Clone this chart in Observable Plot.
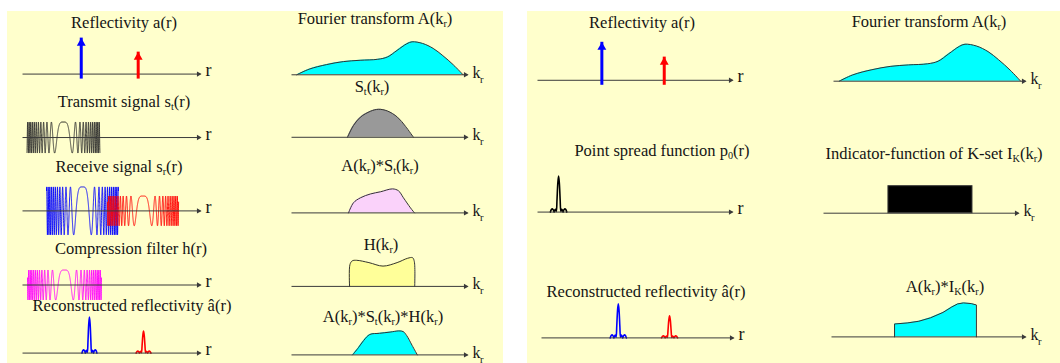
<!DOCTYPE html>
<html><head><meta charset="utf-8">
<script src="https://cdn.jsdelivr.net/npm/d3@7"></script>
<script src="https://cdn.jsdelivr.net/npm/@observablehq/plot@0.6"></script>
<style>
body{margin:0;background:#fff;}
#root{position:relative;width:1060px;height:363px;overflow:hidden;font-family:"Liberation Serif","Times New Roman",serif;color:#151515;}
.panel{position:absolute;background:#ffffcc;}
.lbl{position:absolute;white-space:nowrap;line-height:1;transform:translateX(-50%);}
.lbl sub{font-size:0.62em;vertical-align:baseline;position:relative;top:0.28em;}
.cell{position:absolute;}
</style></head>
<body><div id="root"></div>
<script>
// ---------------- data ----------------
const BLUE = "#0000ff", RED = "#ff0000";
const reflectors = [
  {r: 33, a: 1.0, color: BLUE},
  {r: 65, a: 0.61, color: RED}
];
// Fourier transform A(k_r): [k, amplitude]
const spectrumA = [[3,0],[10,0.17],[20,0.31],[29.5,0.4],[39,0.44],[49,0.47],[54.5,0.54],[60,0.74],[65.5,0.94],[68.5,1],[74.5,0.95],[80.5,0.8],[86,0.58],[92,0.3],[97.5,0]];
const spectrumSt = [[31.8,0],[35.2,0.42],[39.2,0.72],[44.9,0.93],[49.4,1],[54.5,0.94],[60.2,0.72],[64.8,0.39],[69.3,0]];
const spectrumASt = [[32.4,0],[35.2,0.42],[39.2,0.63],[44.9,0.79],[50.6,0.88],[57.4,1],[60.8,0.92],[63.6,0.63],[67.6,0.21],[69.9,0]];
const spectrumH = [[33,0],[33.2,0.75],[34.5,0.88],[37,0.9],[44,0.82],[52,0.7],[60,0.82],[66,0.97],[68.8,0.99],[69.8,0.85],[70,0]];
const spectrumAStH = [[34.7,0],[38,0.3],[41,0.6],[44.5,0.85],[50,0.9],[56,0.95],[61,1],[63.5,0.97],[65.5,0.8],[68.5,0.4],[71.5,0]];
const kSet = [{k1: 33.3, k2: 76.4, h: 1}];
const spectrumAIK = [[32.5,0],[32.5,0.38],[39,0.41],[45,0.46],[51,0.56],[57.5,0.72],[62,0.88],[65,0.97],[68,1],[72,0.98],[74.7,0.94],[74.7,0]];
// chirps: centre, half-width (r units), amplitude, phase coefficient and power (phase = 2π·coef·|t|^power)
const transmitChirp = [{center: 23, halfWidth: 20.5, amp: 1, coef: 0.0149, power: 2.2, color: "#2a2a2a"}];
const receiveChirps = [
  {center: 33.7, halfWidth: 20.2, amp: 1, coef: 0.0149, power: 2.2, color: BLUE},
  {center: 67.7, halfWidth: 20, amp: 0.62, coef: 0.0149, power: 2.2, color: RED}
];
const filterChirp = [{center: 23.6, halfWidth: 20.8, amp: 1, coef: 0.0149, power: 2.2, color: "#ff00ff"}];
// point-spread profile: [offset, relative amplitude]
const peakProfile = [[-4.2,0],[-3.7,0.07],[-3.2,0.09],[-2.7,0.06],[-2.3,0],[-1.9,0.06],[-1.5,0.08],[-1.15,0.02],[-0.8,0.35],[-0.4,0.8],[0,1],[0.4,0.8],[0.8,0.35],[1.15,0.02],[1.5,0.08],[1.9,0.06],[2.3,0],[2.7,0.06],[3.2,0.09],[3.7,0.07],[4.2,0]];
const reconLeft = [{r: 37.6, a: 1, color: BLUE}, {r: 68, a: 0.61, color: RED}];
const psf = [{r: 10.8, a: 1, color: "#000000"}];
const reconRight = [{r: 40, a: 1, color: BLUE}, {r: 66.7, a: 0.65, color: RED}];

// ---------------- helpers ----------------
const FONT = "Liberation Serif";
const TXT = "#151515";
const AX = "#3a3a3a";
const root = document.getElementById("root");

function panel(l, t, w, h) {
  const d = document.createElement("div");
  d.className = "panel";
  Object.assign(d.style, {left: l + "px", top: t + "px", width: w + "px", height: h + "px"});
  root.appendChild(d);
}
function label(html, cx, by, fs = 16.5) {
  const d = document.createElement("div");
  d.className = "lbl";
  d.innerHTML = html;
  d.style.fontSize = fs + "px";
  d.style.left = cx + "px";
  d.style.top = (by - 0.8375 * fs) + "px";
  root.appendChild(d);
}
function axisMarks(kind) {
  const ax = [{x1: 0, x2: 100}];
  const m = [
    Plot.link(ax, {x1: "x1", x2: "x2", y1: () => 0, y2: () => 0, stroke: AX, strokeWidth: 1}),
    Plot.dot(ax, {x: "x2", y: () => 0, symbol: "triangle", r: 2, fill: AX, stroke: null, rotate: 90, dx: -2})
  ];
  if (kind === "r") {
    m.push(Plot.text(ax, {x: "x2", y: () => 0, text: () => "r", dx: 5, dy: 2, lineAnchor: "bottom", textAnchor: "start", fontSize: 18, fontFamily: FONT, fill: TXT}));
  } else {
    m.push(Plot.text(ax, {x: "x2", y: () => 0, text: () => "k", dx: 5, dy: 3, lineAnchor: "bottom", textAnchor: "start", fontSize: 16, fontFamily: FONT, fill: TXT}));
    m.push(Plot.text(ax, {x: "x2", y: () => 0, text: () => "r", dx: 12.5, dy: 8, lineAnchor: "bottom", textAnchor: "start", fontSize: 10.5, fontFamily: FONT, fill: TXT}));
  }
  return m;
}
function shapeMarks(pts, fill, curve = "catmull-rom") {
  return [
    Plot.areaY(pts, {x: d => d[0], y: d => d[1], fill, curve}),
    Plot.line(pts, {x: d => d[0], y: d => d[1], stroke: "#333", strokeWidth: 1, curve})
  ];
}
function chirpSamples(c) {
  const pts = [];
  const n = Math.ceil(c.halfWidth * 2 / 0.02);
  for (let i = 0; i <= n; i++) {
    const t = -c.halfWidth + i * (2 * c.halfWidth / n);
    pts.push({x: c.center + t, y: c.amp * Math.cos(2 * Math.PI * c.coef * Math.pow(Math.abs(t), c.power))});
  }
  return pts;
}
function chirpMarks(list) {
  return list.map(c => Plot.line(chirpSamples(c), {x: "x", y: "y", stroke: c.color, strokeWidth: 0.9}));
}
function spikeMarks(data) {
  return [
    Plot.ruleX(data, {x: "r", y1: () => 0, y2: "a", stroke: "color", strokeWidth: 3, insetTop: 5}),
    Plot.dot(data, {x: "r", y: "a", symbol: "triangle", r: 3.3, fill: "color", stroke: null, dy: 5})
  ];
}
function peakMarks(data) {
  return data.map(p => Plot.line(peakProfile.map(([dx, v]) => ({x: p.r + dx, y: p.a * v})),
    {x: "x", y: "y", stroke: p.color, strokeWidth: 1.6, curve: "catmull-rom"}));
}
function cell(x0, x1, y0, k, ylo, yhi, marks) {
  const width = x1 - x0;
  const height = (yhi - ylo) * k;
  const top = y0 - yhi * k;
  const svg = Plot.plot({
    width, height, margin: 0,
    x: {domain: [0, 100], axis: null},
    y: {domain: [ylo, yhi], axis: null},
    color: {type: "identity"},
    style: {background: "transparent", overflow: "visible"},
    marks
  });
  const d = document.createElement("div");
  d.className = "cell";
  Object.assign(d.style, {left: x0 + "px", top: top + "px", width: width + "px", height: height + "px"});
  d.appendChild(svg);
  root.appendChild(d);
}

// ---------------- layout ----------------
panel(7, 11, 496, 352);
panel(527, 11, 533, 352);

// Left panel, r column
cell(22, 200, 74, 36, -0.1, 1.1, [...axisMarks("r"), ...spikeMarks(reflectors)]);
cell(22, 200, 137, 15.5, -1.1, 1.1, [...chirpMarks(transmitChirp), ...axisMarks("r")]);
cell(22, 200, 210, 24, -1.1, 1.1, [...chirpMarks(receiveChirps), ...axisMarks("r")]);
cell(22, 200, 284, 15, -1.1, 1.1, [...chirpMarks(filterChirp), ...axisMarks("r")]);
cell(22, 200, 353, 36, -0.1, 1.1, [...peakMarks(reconLeft), ...axisMarks("r")]);
// Left panel, k column
cell(291, 467, 74, 33, -0.1, 1.1, [...shapeMarks(spectrumA, "#00ffff"), ...axisMarks("k")]);
cell(291, 467, 137, 28, -0.1, 1.1, [...shapeMarks(spectrumSt, "#999999"), ...axisMarks("k")]);
cell(291, 467, 212, 24, -0.1, 1.1, [...shapeMarks(spectrumASt, "#fad2fa"), ...axisMarks("k")]);
cell(291, 467, 286, 29, -0.1, 1.1, [...shapeMarks(spectrumH, "#ffff99"), ...axisMarks("k")]);
cell(291, 467, 354, 24, -0.1, 1.1, [...shapeMarks(spectrumAStH, "#00ffff"), ...axisMarks("k")]);
// Right panel, r column
cell(537, 732, 80, 38, -0.1, 1.1, [...axisMarks("r"), ...spikeMarks(reflectors)]);
cell(537, 732, 212, 36, -0.1, 1.1, [...peakMarks(psf), ...axisMarks("r")]);
cell(541, 733, 337, 34, -0.1, 1.1, [...peakMarks(reconRight), ...axisMarks("r")]);
// Right panel, k column
cell(833, 1025, 81, 37, -0.1, 1.1, [...shapeMarks(spectrumA, "#00ffff"), ...axisMarks("k")]);
cell(823, 1018, 213, 27, -0.1, 1.1, [
  Plot.rect(kSet, {x1: "k1", x2: "k2", y1: () => 0, y2: "h", fill: "#000000", stroke: "#333", strokeWidth: 1}),
  ...axisMarks("k")]);
cell(831, 1025, 336, 34, -0.1, 1.1, [...shapeMarks(spectrumAIK, "#00ffff", "linear"), ...axisMarks("k")]);

// ---------------- labels ----------------
label('Reflectivity a(r)', 124, 29);
label('Fourier transform A(k<sub>r</sub>)', 375, 25);
label('Transmit signal s<sub>t</sub>(r)', 124, 108);
label('S<sub>t</sub>(k<sub>r</sub>)', 372, 93);
label('Receive signal s<sub>r</sub>(r)', 119, 173);
label('A(k<sub>r</sub>)*S<sub>t</sub>(k<sub>r</sub>)', 380, 172);
label('Compression filter h(r)', 131, 255);
label('H(k<sub>r</sub>)', 381, 251);
label('Reconstructed reflectivity â(r)', 132, 312);
label('A(k<sub>r</sub>)*S<sub>t</sub>(k<sub>r</sub>)*H(k<sub>r</sub>)', 383, 323);

label('Reflectivity a(r)', 642, 29);
label('Fourier transform A(k<sub>r</sub>)', 929, 28);
label('Point spread function p<sub>0</sub>(r)', 662, 157);
label('Indicator-function of K-set I<sub>K</sub>(k<sub>r</sub>)', 934, 160);
label('Reconstructed reflectivity â(r)', 646, 298);
label('A(k<sub>r</sub>)*I<sub>K</sub>(k<sub>r</sub>)', 945, 293);
</script>
</body></html>
